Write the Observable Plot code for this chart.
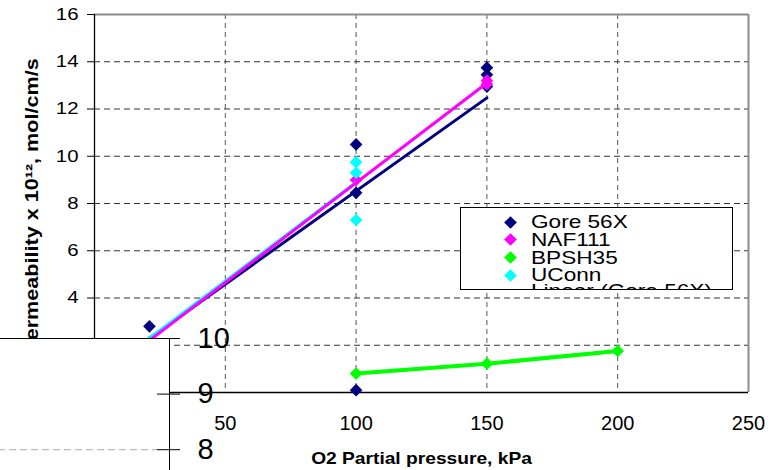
<!DOCTYPE html>
<html>
<head>
<meta charset="utf-8">
<script src="https://cdn.jsdelivr.net/npm/d3@7"></script>
<script src="https://cdn.jsdelivr.net/npm/@observablehq/plot@0.6"></script>
<style>
  body { margin: 0; background: #fff; font-family: "Liberation Sans", Arial, sans-serif; }
  #chart { position: relative; width: 774px; height: 470px; overflow: hidden; background: #fff; }
  #chart > svg { position: absolute; }
  .legend { position: absolute; left: 460px; top: 207px; width: 271px; height: 81px;
            border: 1px solid #000; background: #fff; overflow: hidden; font-size: 19px; color: #000; }
  .legend .row { position: absolute; left: 0; height: 18px; width: 100%; }
  .legend .sym { position: absolute; left: 45px; top: 4.5px; width: 9px; height: 9px; transform: rotate(45deg); }
  .legend .swatch { position: absolute; left: 32px; top: 7.5px; width: 34px; height: 3px; }
  .legend .lab { position: absolute; left: 70px; top: 0px; line-height: 18px; white-space: nowrap;
                 display: inline-block; transform: scaleX(1.19); transform-origin: left center; }
</style>
</head>
<body>
<div id="chart"></div>
<script>
// O2 permeability of membranes vs. O2 partial pressure
const seriesNames = ["Gore 56X", "NAF111", "BPSH35", "UConn"];
const seriesColors = ["#000080", "#ff00ff", "#00ff00", "#00ffff"];

const pressureGore = [21, 100, 100, 100, 150, 150, 150];
const permGore = [2.8, 10.5, 8.45, 0.1, 13.75, 13.45, 12.95];
const pressureNaf = [100, 150, 150];
const permNaf = [9.0, 13.05, 13.2];
const pressureBpsh = [100, 150, 200];
const permBpsh = [0.8, 1.22, 1.76];
const pressureUconn = [21, 100, 100, 100];
const permUconn = [2.15, 9.75, 9.3, 7.3];

// linear trend lines (end points)
const trendGoreX = [21, 150], trendGoreY = [2.3, 12.47];
const trendUconnX = [21, 100], trendUconnY = [2.3, 8.9];
const trendNafX = [21, 150], trendNafY = [2.2, 13.1];

// axes
const xTicks = [0, 50, 100, 150, 200, 250];
const xGrid = [50, 100, 150, 200];
const yTicks = [0, 2, 4, 6, 8, 10, 12, 14, 16];
const yGrid = [2, 4, 6, 8, 10, 12, 14];
const insetTicks = [8, 9, 10];
const insetGrid = [8];

const xTitle = "O2 Partial pressure, kPa";
const yTitle = "Permeability x 10\u00b9\u00b2, mol/cm/s";
const trendLegend = "Linear (Gore 56X)";

const rows = (name, xs, ys) => xs.map((x, i) => ({series: name, x, y: ys[i]}));
const points = [
  ...rows("Gore 56X", pressureGore, permGore),
  ...rows("NAF111", pressureNaf, permNaf),
  ...rows("BPSH35", pressureBpsh, permBpsh),
  ...rows("UConn", pressureUconn, permUconn)
];
const trends = [
  ...rows("Gore 56X", trendGoreX, trendGoreY),
  ...rows("UConn", trendUconnX, trendUconnY),
  ...rows("NAF111", trendNafX, trendNafY)
];
const bpshLine = rows("BPSH35", pressureBpsh, permBpsh);

const font = "Liberation Sans, Arial, sans-serif";

const main = Plot.plot({
  width: 774, height: 470,
  marginLeft: 94, marginRight: 26, marginTop: 14, marginBottom: 78,
  style: {fontFamily: font, background: "white", overflow: "visible", color: "#000"},
  x: {domain: [0, 250]},
  y: {domain: [0, 16]},
  color: {domain: seriesNames, range: seriesColors},
  marks: [
    Plot.gridX(xGrid, {stroke: "#555", strokeOpacity: 1, strokeDasharray: "5,4"}),
    Plot.gridY(yGrid, {stroke: "#333", strokeOpacity: 1, strokeDasharray: "6,4"}),
    Plot.ruleY([16], {stroke: "#8c8c8c", strokeWidth: 2}),
    Plot.ruleX([250], {stroke: "#8c8c8c", strokeWidth: 2}),
    Plot.ruleX([0], {stroke: "#000", strokeWidth: 1.3}),
    Plot.ruleY([0], {stroke: "#000", strokeWidth: 1.3}),
    Plot.axisY(yTicks, {tickSize: 7, tickPadding: 9, fontSize: 17, label: null}),
    Plot.axisX(xTicks, {tickSize: 0, tickPadding: 23, fontSize: 20, label: null}),
    Plot.dot(points, {x: "x", y: "y", fill: "series", symbol: "diamond2", r: 5.7}),
    Plot.line(trends, {x: "x", y: "y", z: "series", stroke: "series", strokeWidth: 3}),
    Plot.line(bpshLine, {x: "x", y: "y", stroke: "series", strokeWidth: 4}),
    Plot.text([xTitle], {text: d => d, frameAnchor: "bottom", dy: 66, textAnchor: "middle", lineAnchor: "middle",
                         fontWeight: "bold", fontSize: 16}),
    Plot.text([yTitle], {text: d => d, frameAnchor: "left", rotate: -90, dx: -62, dy: 3, textAnchor: "middle",
                         lineAnchor: "middle", fontWeight: "bold", fontSize: 18})
  ]
});

// widen glyphs along the text direction
function stretch(nodes, s) {
  nodes.forEach(t => {
    const x = +t.getAttribute("x") || 0, y = +t.getAttribute("y") || 0;
    const tr = t.getAttribute("transform") || "";
    t.setAttribute("transform", `${tr} translate(${x},${y}) scale(${s},1) translate(${-x},${-y})`);
  });
}
stretch(main.querySelectorAll('g[aria-label="y-axis tick label"] text'), 1.2);
main.querySelectorAll('g[aria-label="text"] text').forEach(t => stretch([t], 1.2));

const inset = Plot.plot({
  width: 260, height: 160,
  marginLeft: 0, marginRight: 89, marginTop: 20, marginBottom: 1,
  style: {fontFamily: font, background: "transparent", overflow: "visible", color: "#000"},
  y: {domain: [7.5, 10]},
  marks: [
    Plot.frame({fill: "white", stroke: "#000"}),
    Plot.ruleY(insetGrid, {stroke: "#aaa", strokeDasharray: "7,4", insetRight: 12}),
    Plot.ruleY(insetTicks, {insetLeft: 159, insetRight: -11, stroke: "#000"}),
    Plot.axisY(insetTicks, {anchor: "right", tickSize: 0, tickPadding: 28, fontSize: 29, label: null,
                            tickFormat: d => String(d)})
  ]
});

const chart = document.getElementById("chart");
main.style.left = "0px"; main.style.top = "0px";
inset.style.left = "-2px"; inset.style.top = "318px";
chart.appendChild(main);
chart.appendChild(inset);

// legend (last entry is cut off by the box)
const legend = document.createElement("div");
legend.className = "legend";
const rowTop = i => 14.3 + i * 17.6 - 9;
seriesNames.forEach((name, i) => {
  const r = document.createElement("div");
  r.className = "row";
  r.style.top = rowTop(i) + "px";
  r.innerHTML = `<span class="sym" style="background:${seriesColors[i]}"></span><span class="lab">${name}</span>`;
  legend.appendChild(r);
});
const tr = document.createElement("div");
tr.className = "row";
tr.style.top = (rowTop(4) - 2) + "px";
tr.innerHTML = `<span class="swatch" style="background:${seriesColors[0]}"></span><span class="lab">${trendLegend}</span>`;
legend.appendChild(tr);
chart.appendChild(legend);
</script>
</body>
</html>
